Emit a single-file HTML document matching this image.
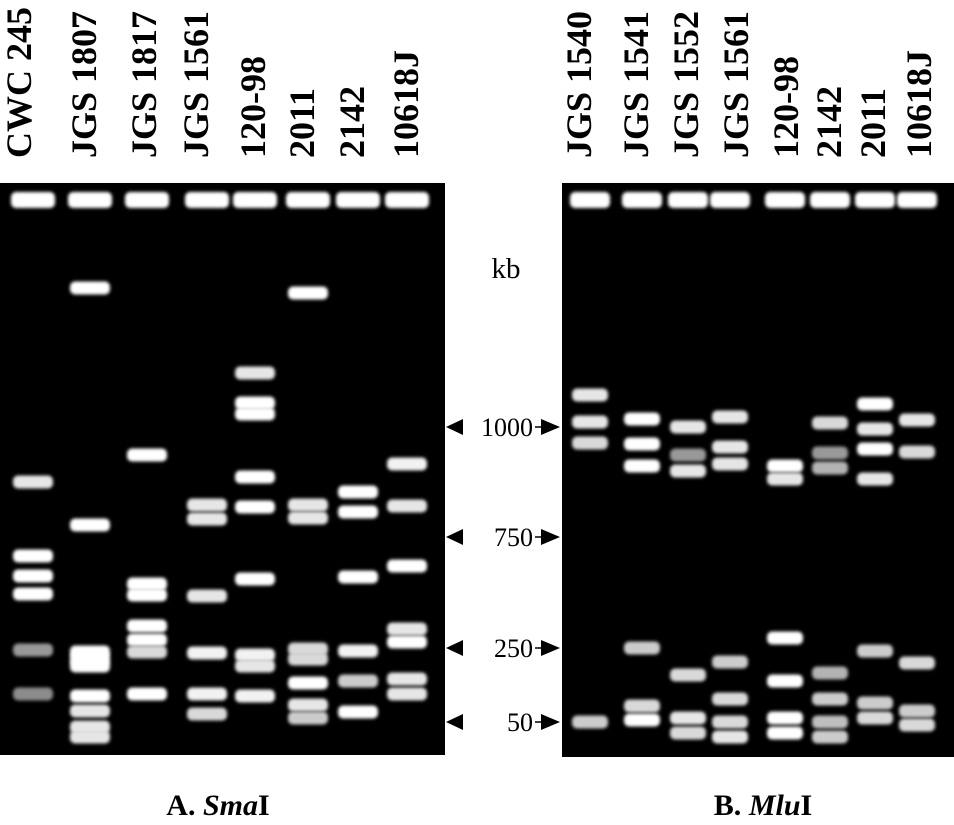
<!DOCTYPE html>
<html><head><meta charset="utf-8"><style>
html,body{margin:0;padding:0;background:#fff;}
svg{display:block;}
text{font-family:"Liberation Serif",serif;}
</style></head><body>
<svg id="fig" width="954" height="825" viewBox="0 0 954 825" xmlns="http://www.w3.org/2000/svg">
<defs><filter id="blur" x="-20%" y="-80%" width="140%" height="260%"><feGaussianBlur stdDeviation="1.5"/></filter></defs>
<rect x="0" y="183" width="445" height="572" fill="#000"/>
<rect x="562" y="183" width="392" height="574" fill="#000"/>
<g id="bandsA"></g>
<g id="bandsB"></g>
<g id="labels"></g>
<g id="markers"></g>
<text x="506" y="278" font-size="29" text-anchor="middle">kb</text>
<text x="218" y="815" font-size="30" font-weight="bold" text-anchor="middle">A. <tspan font-style="italic">Sma</tspan>I</text>
<text x="763" y="815" font-size="30" font-weight="bold" text-anchor="middle">B. <tspan font-style="italic">Mlu</tspan>I</text>
</svg>
<script>
// Lane names
const lanesA = ["CWC 245","JGS 1807","JGS 1817","JGS 1561","120-98","2011","2142","10618J"];
const lanesB = ["JGS 1540","JGS 1541","JGS 1552","JGS 1561","120-98","2142","2011","10618J"];
// Band migration distances (from wells) per lane, and intensities
const migA = [
 [282,356,376,394,450,494],
 [88,325,452,459,466,496,511,527,537],
 [255,384,395,426,440,452,494],
 [305,319,396,453,494,514],
 [173,203,214,277,307,379,455,466,496],
 [93,305,318,449,459,483,505,518],
 [292,312,377,451,481,512],
 [264,306,366,429,442,479,494]
];
const intA = [
 [0.9,1,1,1,0.6,0.55],
 [1,1,1,1,1,1,0.9,0.9,0.9],
 [1,1,1,1,1,0.85,1],
 [0.9,0.9,0.9,0.95,0.95,0.85],
 [0.9,1,1,1,1,1,0.95,0.9,0.95],
 [1,0.9,0.9,0.85,0.85,1,0.9,0.8],
 [1,1,1,0.95,0.8,1],
 [0.95,0.9,1,0.9,1,0.9,0.9]
];
const migB = [
 [195,222,243,522],
 [219,244,266,448,506,520],
 [227,255,271,475,518,533],
 [217,247,264,462,499,522,537],
 [266,279,438,481,518,533],
 [223,253,268,473,499,522,537],
 [204,229,249,279,451,503,518],
 [220,252,463,511,525]
];
const intB = [
 [0.9,0.9,0.85,0.8],
 [1,1,1,0.8,0.85,1],
 [0.9,0.6,0.9,0.85,0.9,0.85],
 [0.9,0.9,0.9,0.8,0.85,0.85,0.9],
 [1,0.9,1,1,1,1],
 [0.85,0.6,0.7,0.7,0.8,0.75,0.8],
 [1,0.9,1,0.9,0.8,0.8,0.85],
 [0.9,0.85,0.85,0.8,0.85]
];
// Marker sizes (kb) and their migration distances
const markerKb = ["1000","750","250","50"];
const markerMig = [227,337,448,522];

const NS="http://www.w3.org/2000/svg";
const wellY = 200;
function yScale(m){ return wellY + m; }
const laneXA = [33,90,147,207,255,308,358,407];
const laneXB = [590,642,688,730,785,830,875,917];
const labelXA = [31,96,156,208,265,314,364,418];
const labelXB = [591,648,698,748,798,841,885,931];
const xA = i => laneXA[i];
const xB = i => laneXB[i];

function drawGel(gid, lanes, mig, inten, xf, w, prefix){
  const g=document.getElementById(gid);
  lanes.forEach((name,i)=>{
    const cx=xf(i);
    const well=document.createElementNS(NS,"rect");
    well.setAttribute("x",cx-w/2-2);well.setAttribute("y",wellY-8);
    well.setAttribute("width",w+4);well.setAttribute("height",16);
    well.setAttribute("rx",5);well.setAttribute("fill","#fff");well.setAttribute("filter","url(#blur)");
    
    
    g.appendChild(well);
    mig[i].forEach((m,j)=>{
      const b=document.createElementNS(NS,"rect");
      const v=Math.round(255*inten[i][j]);
      b.setAttribute("x",cx-w/2);b.setAttribute("y",yScale(m)-6.5);
      b.setAttribute("width",w);b.setAttribute("height",13);b.setAttribute("rx",5);
      b.setAttribute("fill","rgb("+v+","+v+","+v+")");b.setAttribute("filter","url(#blur)");
      
      
      g.appendChild(b);
    });
  });
}
drawGel("bandsA",lanesA,migA,intA,xA,40,"gel-a");
drawGel("bandsB",lanesB,migB,intB,xB,36,"gel-b");

// lane labels (rotated)
const lg=document.getElementById("labels");
function addLabels(lanes,lx,prefix){
  lanes.forEach((name,i)=>{
    const t=document.createElementNS(NS,"text");
    const x=lx[i], y=158;
    t.setAttribute("x",x);t.setAttribute("y",y);
    t.setAttribute("transform","rotate(-90 "+x+" "+y+")");
    t.setAttribute("font-size","36");t.setAttribute("font-weight","bold");
    t.textContent=name;
    
    
    lg.appendChild(t);
  });
}
addLabels(lanesA,labelXA,"gel-a");
addLabels(lanesB,labelXB,"gel-b");

// markers
const mg=document.getElementById("markers");
markerKb.forEach((kb,i)=>{
  const y=yScale(markerMig[i]);
  const l=document.createElementNS(NS,"polygon");
  l.setAttribute("points",(446)+","+y+" "+(463)+","+(y-8)+" "+(463)+","+(y+8));
  
  
  mg.appendChild(l);
  const r=document.createElementNS(NS,"polygon");
  r.setAttribute("points",(560)+","+y+" "+(541)+","+(y-8)+" "+(541)+","+(y+8));
  
  
  mg.appendChild(r);
  const tk=document.createElementNS(NS,"line");
  tk.setAttribute("x1",535);tk.setAttribute("x2",541);tk.setAttribute("y1",y);tk.setAttribute("y2",y);
  tk.setAttribute("stroke","#000");tk.setAttribute("stroke-width","1.5");
  
  
  mg.appendChild(tk);
  const t=document.createElementNS(NS,"text");
  t.setAttribute("x",533);t.setAttribute("y",y+9);t.setAttribute("text-anchor","end");
  t.setAttribute("font-size","26");t.textContent=kb;
  
  
  mg.appendChild(t);
});
</script>
</body></html>
